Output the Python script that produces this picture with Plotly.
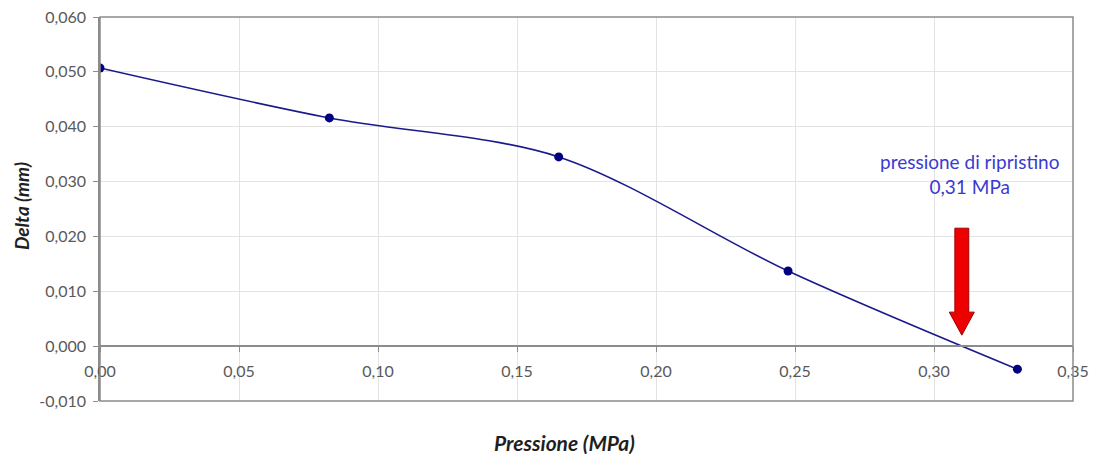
import plotly.graph_objects as go

pressione = [0.0, 0.0825, 0.165, 0.2475, 0.33]
delta = [0.0507, 0.0416, 0.0345, 0.0137, -0.0042]
x_ticks = [0.0, 0.05, 0.10, 0.15, 0.20, 0.25, 0.30, 0.35]
x_labels = ["0,00", "0,05", "0,10", "0,15", "0,20", "0,25", "0,30", "0,35"]
y_ticks = [-0.010, 0.0, 0.010, 0.020, 0.030, 0.040, 0.050, 0.060]
y_labels = ["-0,010", "0,000", "0,010", "0,020", "0,030", "0,040", "0,050", "0,060"]
p_ripristino = 0.31

FONT = "Lato"
fig = go.Figure()
fig.add_trace(go.Scatter(
    x=pressione, y=delta, mode="lines+markers",
    line=dict(color="#1a1a8c", width=1.6, shape="spline", smoothing=0.9),
    marker=dict(color="#000080", size=9),
    showlegend=False, hoverinfo="skip"))

# red arrow (data coords around p_ripristino)
sw, hw = 0.0025, 0.0045
y_top, y_base, y_tip = 0.0215, 0.0062, 0.0020
x0 = p_ripristino
path = (f"M {x0-sw},{y_top} L {x0+sw},{y_top} L {x0+sw},{y_base} L {x0+hw},{y_base} "
        f"L {x0},{y_tip} L {x0-hw},{y_base} L {x0-sw},{y_base} Z")
fig.add_shape(type="path", path=path, xref="x", yref="y",
              fillcolor="#ee0000", line=dict(color="#a00000", width=1))

# plot area border
fig.add_shape(type="rect", xref="paper", yref="paper", x0=0, x1=1, y0=0, y1=1,
              line=dict(color="#8c8c8c", width=1.5), layer="above")

fig.add_annotation(x=0.3126, y=0.0313, xref="x", yref="y",
                   text="pressione di ripristino<br>0,31 MPa", showarrow=False,
                   font=dict(family=FONT, size=19, color="#3a3ad0"), align="center")
fig.add_annotation(x=0.477, y=-0.107, xref="paper", yref="paper",
                   text="<b><i>Pressione (MPa)</i></b>", showarrow=False,
                   font=dict(family=FONT, size=21, color="#1f1f1f"), yanchor="middle")
fig.add_annotation(x=-0.080, y=0.508, xref="paper", yref="paper",
                   text="<b><i>Delta (mm)</i></b>", showarrow=False, textangle=-90,
                   font=dict(family=FONT, size=19, color="#1f1f1f"), xanchor="center")

fig.update_layout(
    width=1093, height=454,
    margin=dict(l=100, r=20, t=17, b=53),
    paper_bgcolor="white", plot_bgcolor="white",
    font=dict(family=FONT, size=16, color="#595959"),
    xaxis=dict(range=[0, 0.35], tickvals=x_ticks, ticktext=x_labels,
               showgrid=True, gridcolor="#e3e3e3", gridwidth=1, automargin=False,
               zeroline=False, showline=True, linecolor="#8c8c8c", linewidth=1.5,
               ticks="outside", ticklen=5, tickcolor="#8c8c8c",
               anchor="free", position=1/7, ticklabelstandoff=6),
    yaxis=dict(range=[-0.010, 0.060], tickvals=y_ticks, ticktext=y_labels,
               showgrid=True, gridcolor="#e3e3e3", gridwidth=1, automargin=False,
               zeroline=False, showline=True, linecolor="#8c8c8c", linewidth=1.5,
               ticks="outside", ticklen=5, tickcolor="#8c8c8c", ticklabelstandoff=4),
)
fig.write_html("out.html", config={"displayModeBar": False},
               post_script="document.body.style.margin='0';document.body.style.overflow='hidden';")
